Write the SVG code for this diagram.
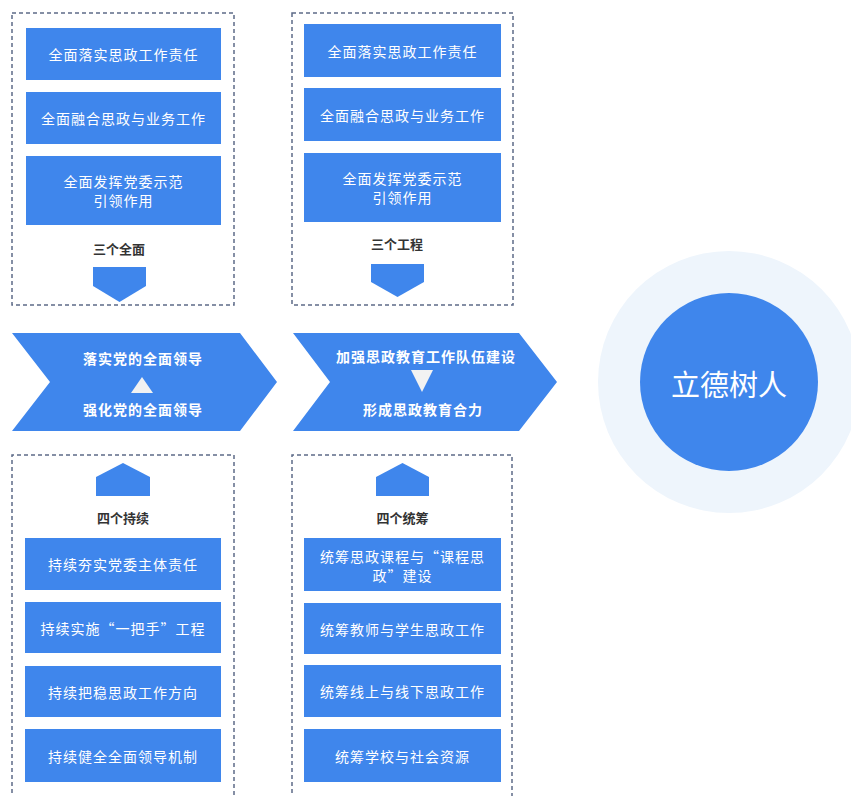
<svg xmlns="http://www.w3.org/2000/svg" width="851" height="796" viewBox="0 0 851 796">
<style>
.panel{fill:none;stroke:#5d6b88;stroke-width:1.5;stroke-dasharray:4 3}
.box{fill:#3f86ec}
.bt{font-family:"Noto Sans CJK SC","Noto Sans",sans-serif;font-size:14px;fill:#ffffff;text-anchor:middle;dominant-baseline:central;letter-spacing:1px}
.lbl{font-family:"Noto Sans CJK SC","Noto Sans",sans-serif;font-size:13px;font-weight:bold;fill:#333333;text-anchor:middle;dominant-baseline:central}
.ct{font-family:"Noto Sans CJK SC","Noto Sans",sans-serif;font-size:14px;font-weight:bold;fill:#ffffff;text-anchor:middle;dominant-baseline:central;letter-spacing:1px}
.tri{fill:#f2f2f2}
</style>
<rect width="851" height="796" fill="#ffffff"/>

<g id="panel-top-left">
<rect class="panel" x="12" y="13" width="222" height="292"/>
<rect class="box" x="26" y="28" width="195" height="52"/>
<text class="bt" x="123.5" y="54">全面落实思政工作责任</text>
<rect class="box" x="26" y="92" width="195" height="52"/>
<text class="bt" x="123.5" y="118">全面融合思政与业务工作</text>
<rect class="box" x="26" y="156" width="195" height="69"/>
<text class="bt" x="123.5" y="181">全面发挥党委示范</text>
<text class="bt" x="123.5" y="200">引领作用</text>
<text class="lbl" x="119" y="248">三个全面</text>
<polygon class="box" points="93,267 146,267 146,286 119.5,302 93,286"/>
</g>

<g id="panel-top-right">
<rect class="panel" x="292" y="13" width="221" height="292"/>
<rect class="box" x="304" y="24" width="197" height="53"/>
<text class="bt" x="402.5" y="50.5">全面落实思政工作责任</text>
<rect class="box" x="304" y="88" width="197" height="53"/>
<text class="bt" x="402.5" y="114.5">全面融合思政与业务工作</text>
<rect class="box" x="304" y="153" width="197" height="69"/>
<text class="bt" x="402.5" y="178">全面发挥党委示范</text>
<text class="bt" x="402.5" y="197">引领作用</text>
<text class="lbl" x="397" y="243">三个工程</text>
<polygon class="box" points="371,264 424,264 424,282 397.5,297 371,282"/>
</g>

<g id="chevron-left">
<polygon class="box" points="12,333 240,333 277,382 240,431 12,431 50,382"/>
<text class="ct" x="143" y="358">落实党的全面领导</text>
<polygon class="tri" points="142,377 153,393 131,393"/>
<text class="ct" x="143" y="409">强化党的全面领导</text>
</g>

<g id="chevron-right">
<polygon class="box" points="293,333 519,333 557,382 519,431 293,431 330,382"/>
<text class="ct" x="426" y="356">加强思政教育工作队伍建设</text>
<polygon class="tri" points="411,370 433,370 422,392"/>
<text class="ct" x="423" y="409">形成思政教育合力</text>
</g>

<g id="goal">
<circle cx="729" cy="382" r="131" fill="#eef5fc"/>
<circle cx="729" cy="382" r="89" fill="#3f86ec"/>
<text x="729" y="383" font-family="'Noto Sans CJK SC','Noto Sans',sans-serif" font-size="29" fill="#ffffff" text-anchor="middle" dominant-baseline="central">立德树人</text>
</g>

<g id="panel-bottom-left">
<path class="panel" d="M12,800 V455 H234 V800"/>
<polygon class="box" points="96,477 123,463 150,477 150,496 96,496"/>
<text class="lbl" x="123" y="517">四个持续</text>
<rect class="box" x="25" y="538" width="196" height="52"/>
<text class="bt" x="123" y="564">持续夯实党委主体责任</text>
<rect class="box" x="25" y="602" width="196" height="51"/>
<text class="bt" x="123" y="627.5">持续实施“一把手”工程</text>
<rect class="box" x="25" y="666" width="196" height="51"/>
<text class="bt" x="123" y="691.5">持续把稳思政工作方向</text>
<rect class="box" x="25" y="729" width="196" height="53"/>
<text class="bt" x="123" y="755.5">持续健全全面领导机制</text>
</g>

<g id="panel-bottom-right">
<path class="panel" d="M292,800 V455 H512 V800"/>
<polygon class="box" points="376,477 402.5,463 429,477 429,496 376,496"/>
<text class="lbl" x="402.5" y="517">四个统筹</text>
<rect class="box" x="304" y="538" width="197" height="53"/>
<text class="bt" x="402.5" y="555.5">统筹思政课程与“课程思</text>
<text class="bt" x="402.5" y="574.5">政”建设</text>
<rect class="box" x="304" y="603" width="197" height="51"/>
<text class="bt" x="402.5" y="628.5">统筹教师与学生思政工作</text>
<rect class="box" x="304" y="665" width="197" height="52"/>
<text class="bt" x="402.5" y="691">统筹线上与线下思政工作</text>
<rect class="box" x="304" y="729" width="197" height="53"/>
<text class="bt" x="402.5" y="755.5">统筹学校与社会资源</text>
</g>

<g id="connectors"></g>
</svg>
